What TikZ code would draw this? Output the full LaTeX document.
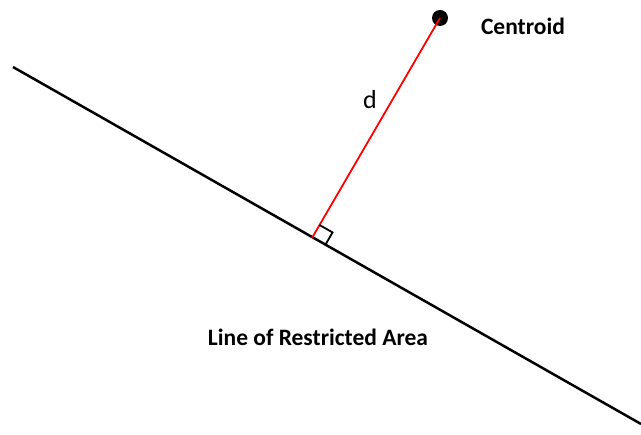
\documentclass[tikz,border=0pt]{standalone}
\usepackage{fontspec}
\setmainfont{Carlito}
\usetikzlibrary{positioning}
\usetikzlibrary{calc}

\begin{document}
\begin{tikzpicture}[x=1pt, y=-1pt]
    \useasboundingbox (0, 0) rectangle (641, 435);

    % Line of restricted area
    \coordinate (lstart) at (13, 67);
    \coordinate (lend) at (641, 424);
    \draw[line width=2.5pt] (lstart) -- (lend);

    % Centroid and distance
    \node[circle, fill=black, inner sep=0pt, minimum size=16pt] (cen) at (440, 18) {};
    \coordinate (foot) at (312, 238);
    \draw[red, line width=1.8pt] (cen.center) -- (foot);
    \draw[line width=1.8pt] ($(foot)!15pt!(cen.center)$) -- ++(13, 7.4) -- ($(foot)!15pt!(lend)$);

    % Labels
    \node[font=\fontsize{26}{30}\selectfont] (dlabel) at (370, 100) {d};
    \node[font=\bfseries\fontsize{23.5}{28}\selectfont] (cenlabel) at (523, 26) {Centroid};
    \node[font=\bfseries\fontsize{23.5}{28}\selectfont] (linelabel) at (318, 337) {Line of Restricted Area};
\end{tikzpicture}
\end{document}
